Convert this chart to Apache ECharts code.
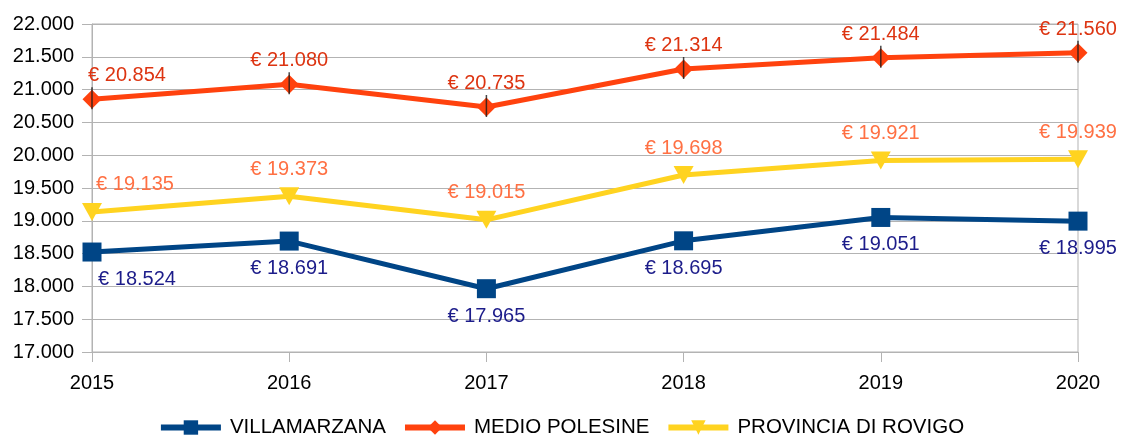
<!DOCTYPE html>
<html>
<head>
<meta charset="utf-8">
<script src="https://cdn.jsdelivr.net/npm/echarts@6/dist/echarts.min.js"></script>
<style>
  html, body { margin: 0; padding: 0; background: #fff; }
  #chart { width: 1122px; height: 436px; }
</style>
</head>
<body>
<div id="chart"></div>
<script>
var years = ['2015', '2016', '2017', '2018', '2019', '2020']
var villamarzana = [18524, 18691, 17965, 18695, 19051, 18995]
var medioPolesine = [20854, 21080, 20735, 21314, 21484, 21560]
var provinciaRovigo = [19135, 19373, 19015, 19698, 19921, 19939]

// separatore migliaia col punto
function fmt(v) {
  return String(Math.round(v)).replace(/\B(?=(\d{3})+(?!\d))/g, '.')
}

// il primo punto ha l'etichetta spostata a destra, come nell'originale
function withFirstOffset(arr, dx) {
  return arr.map(function (v, i) {
    if (i === 0) return { value: v, label: { offset: [dx, 0] } }
    return v
  })
}

var chart = echarts.init(document.getElementById('chart'))
var font = 'Liberation Sans, Arial, sans-serif'

chart.setOption({
  animation: false,
  textStyle: { fontFamily: font },
  grid: {
    left: 92,
    right: 44,
    top: 24,
    bottom: 84,
    show: true,
    borderColor: '#b3b3b3',
    borderWidth: 1
  },
  legend: {
    top: 417,
    left: 'center',
    padding: [0, 5],
    itemWidth: 60,
    itemHeight: 18,
    itemGap: 16,
    lineStyle: { width: 6 },
    textStyle: { fontSize: 20.5, color: '#000', fontFamily: font, padding: [0, 0, 0, 4] },
    data: ['VILLAMARZANA', 'MEDIO POLESINE', 'PROVINCIA DI ROVIGO']
  },
  xAxis: {
    type: 'category',
    data: years,
    boundaryGap: false,
    axisLine: { lineStyle: { color: '#b3b3b3', width: 1 } },
    axisTick: { show: true, length: 10, lineStyle: { color: '#b3b3b3' } },
    axisLabel: { color: '#000', fontSize: 20, margin: 21, fontFamily: font },
    splitLine: { show: false }
  },
  yAxis: {
    type: 'value',
    min: 17000,
    max: 22000,
    interval: 500,
    axisLine: { show: true, lineStyle: { color: '#b3b3b3', width: 1 } },
    axisTick: { show: true, length: 10, lineStyle: { color: '#b3b3b3' } },
    axisLabel: {
      color: '#000',
      fontSize: 20,
      margin: 18,
      fontFamily: font,
      formatter: function (v) { return fmt(v) }
    },
    splitLine: { lineStyle: { color: '#b3b3b3', width: 1 } }
  },
  series: [
    {
      name: 'VILLAMARZANA',
      type: 'line',
      data: withFirstOffset(villamarzana, 45),
      symbol: 'rect',
      symbolSize: 19,
      z: 3,
      lineStyle: { color: '#004586', width: 5 },
      itemStyle: { color: '#004586' },
      label: {
        show: true,
        position: 'bottom',
        distance: 8,
        color: '#1c1c8a',
        fontSize: 20,
        fontFamily: font,
        formatter: function (p) { return '€ ' + fmt(p.value) }
      }
    },
    {
      name: 'MEDIO POLESINE',
      type: 'line',
      data: withFirstOffset(medioPolesine, 35),
      symbol: 'diamond',
      symbolSize: 19,
      lineStyle: { color: '#ff420e', width: 5 },
      itemStyle: { color: '#ff420e' },
      label: {
        show: true,
        position: 'top',
        distance: 4,
        color: '#dd3411',
        fontSize: 20,
        fontFamily: font,
        formatter: function (p) { return '€ ' + fmt(p.value) }
      }
    },
    {
      // trattino nero dentro i rombi
      name: 'medio-tick',
      type: 'scatter',
      data: medioPolesine,
      symbol: 'rect',
      symbolSize: [1.5, 22],
      symbolOffset: [0, -1],
      silent: true,
      z: 4,
      itemStyle: { color: '#1a1a1a' }
    },
    {
      name: 'PROVINCIA DI ROVIGO',
      type: 'line',
      data: withFirstOffset(provinciaRovigo, 43),
      symbol: 'triangle',
      symbolRotate: 180,
      symbolSize: [20, 18],
      lineStyle: { color: '#ffd320', width: 5 },
      itemStyle: { color: '#ffd320' },
      label: {
        show: true,
        position: 'top',
        distance: 8,
        color: '#ff7043',
        fontSize: 20,
        fontFamily: font,
        formatter: function (p) { return '€ ' + fmt(p.value) }
      }
    }
  ]
})
</script>
</body>
</html>
